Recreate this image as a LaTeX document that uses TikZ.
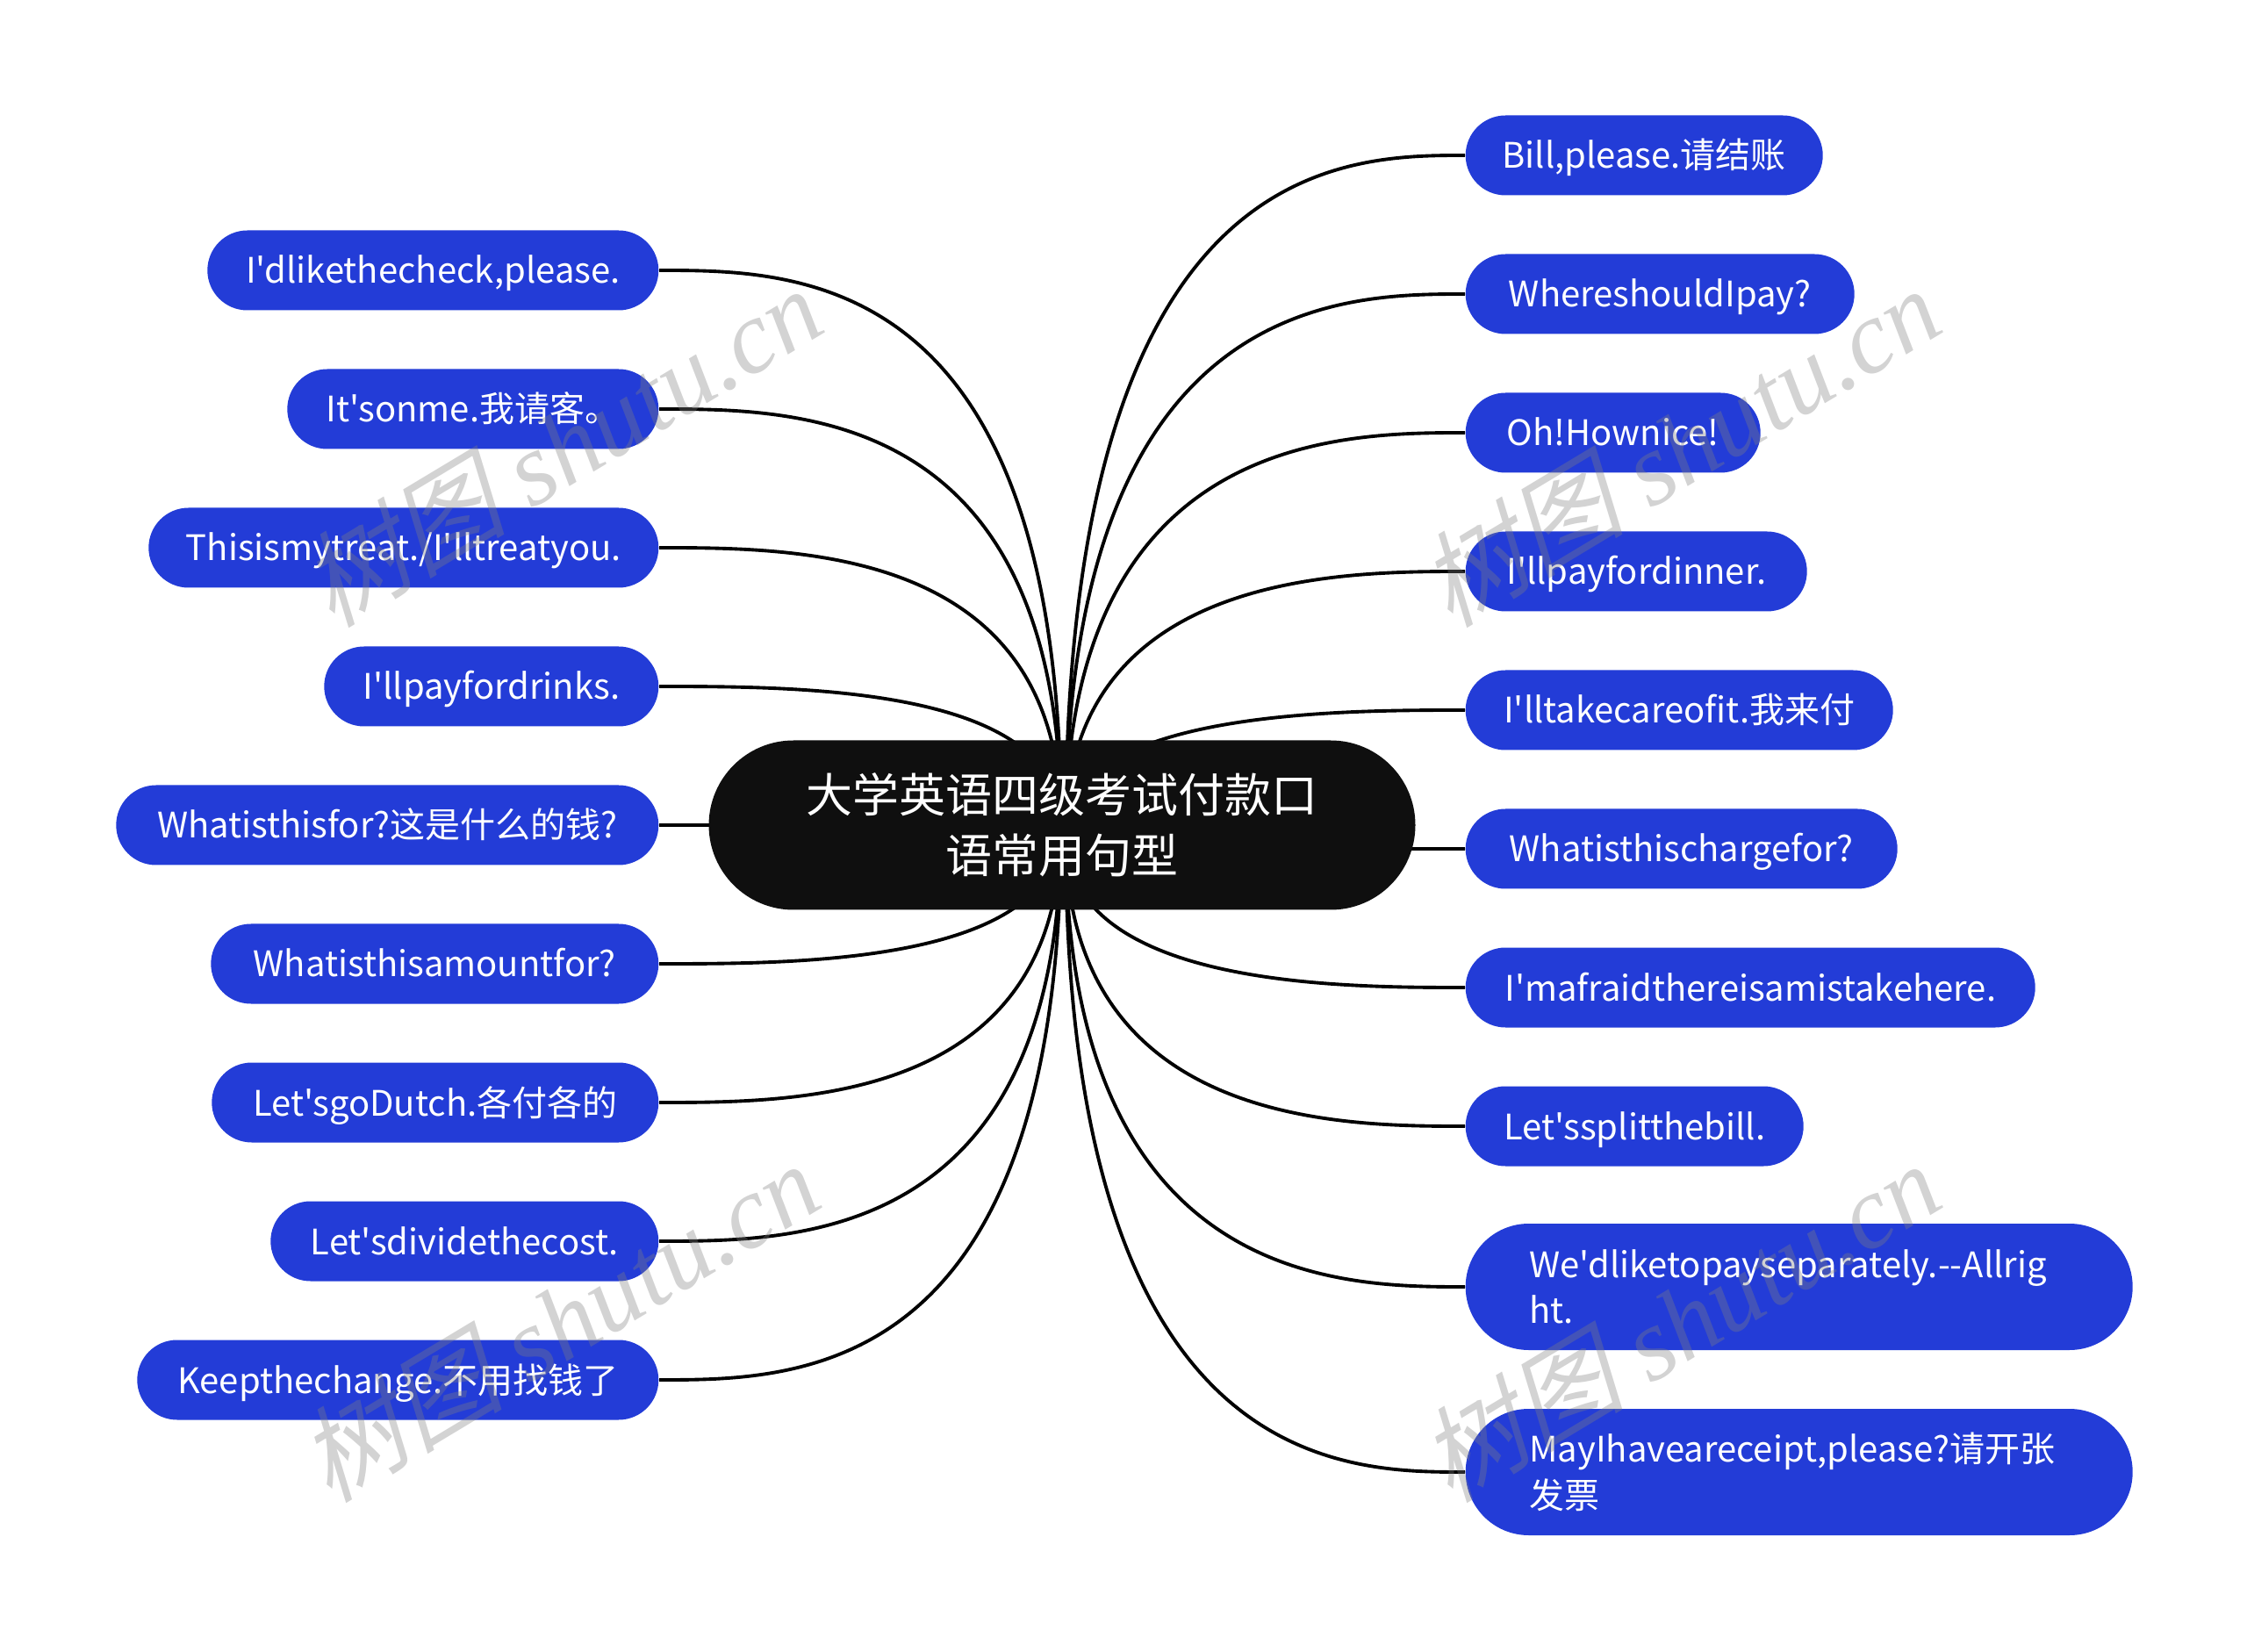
\documentclass[tikz,border=0pt]{standalone}
\usepackage{fontspec}
\usepackage{tikz}
\usetikzlibrary{shapes.misc,backgrounds}
\newfontfamily\labelfont{Noto Sans CJK SC}
\newfontfamily\markfont{Liberation Serif}
\newfontfamily\markcjk[FakeSlant=0.25]{Noto Sans CJK SC}
\definecolor{leafblue}{HTML}{233CD7}
\definecolor{rootblack}{HTML}{0F0F0F}
\begin{document}
\begin{tikzpicture}[
      leaf/.style={
        rounded rectangle,
        fill=leafblue,
        text=white,
        inner xsep=0pt,
        inner ysep=0pt,
        minimum height=0.91cm,
        font=\labelfont\fontsize{11.38}{14.9}\selectfont
      },
      leafleft/.style={leaf,anchor=east,text height=0.40cm,text depth=0.10cm},
      leafright/.style={leaf,anchor=west,text height=0.40cm,text depth=0.10cm},
      twolines/.style={leaf,anchor=west,minimum width=7.6cm,minimum height=1.44cm,text width=6.15cm,align=left},
      root/.style={
        rounded rectangle,
        fill=rootblack,
        text=white,
        inner xsep=0pt,
        inner ysep=0pt,
        minimum width=8.05cm,
        minimum height=1.93cm,
        align=center,
        font=\labelfont\fontsize{15.08}{19.6}\selectfont
      },
      link/.style={draw=black,line width=1.1pt},
      watermark/.style={
        rotate=31,
        text=gray,
        opacity=0.35,
        font=\markfont\itshape\fontsize{33.5}{33.5}\selectfont
      }
    ]
      \useasboundingbox (0,0) rectangle (25.6,18.81);

      \node (root) at (12.1,9.41) [root]{大学英语四级考试付款口\\语常用句型};
      \coordinate (hubl) at (12.09,9.41);
      \coordinate (hubr) at (12.14,9.31);

      \node (l1) at (7.51,15.73) [leafleft,minimum width=5.14cm]{I'dlikethecheck,please.};
      \node (l2) at (7.51,14.15) [leafleft,minimum width=4.23cm]{It'sonme.我请客。};
      \node (l3) at (7.51,12.57) [leafleft,minimum width=5.81cm]{Thisismytreat./I'lltreatyou.};
      \node (l4) at (7.51,10.99) [leafleft,minimum width=3.81cm]{I'llpayfordrinks.};
      \node (l5) at (7.51,9.41) [leafleft,minimum width=6.18cm]{Whatisthisfor?这是什么的钱?};
      \node (l6) at (7.51,7.83) [leafleft,minimum width=5.10cm]{Whatisthisamountfor?};
      \node (l7) at (7.51,6.25) [leafleft,minimum width=5.09cm]{Let'sgoDutch.各付各的};
      \node (l8) at (7.51,4.67) [leafleft,minimum width=4.42cm]{Let'sdividethecost.};
      \node (l9) at (7.51,3.09) [leafleft,minimum width=5.94cm]{Keepthechange.不用找钱了};

      \node (r1) at (16.69,17.04) [leafright,minimum width=4.07cm]{Bill,please.请结账};
      \node (r2) at (16.69,15.46) [leafright,minimum width=4.43cm]{WhereshouldIpay?};
      \node (r3) at (16.69,13.88) [leafright,minimum width=3.36cm]{Oh!Hownice!};
      \node (r4) at (16.69,12.30) [leafright,minimum width=3.89cm]{I'llpayfordinner.};
      \node (r5) at (16.69,10.72) [leafright,minimum width=4.87cm]{I'lltakecareofit.我来付};
      \node (r6) at (16.69,9.14) [leafright,minimum width=4.92cm]{Whatisthischargefor?};
      \node (r7) at (16.69,7.56) [leafright,minimum width=6.49cm]{I'mafraidthereisamistakehere.};
      \node (r8) at (16.69,5.98) [leafright,minimum width=3.85cm]{Let'ssplitthebill.};
      \node (r9) at (16.69,4.15) [twolines]{We'dliketopayseparately.--Allrig\\ht.};
      \node (r10) at (16.69,2.04) [twolines]{MayIhaveareceipt,please?请开张\\发票};

      \begin{scope}[on background layer]
      \foreach \n in {l1,l2,l3,l4,l5,l6,l7,l8,l9}
        \draw[link] (\n.east) .. controls +(1.6,0) and (hubl |- \n.east) .. (hubl);
      \foreach \n in {r1,r2,r3,r4,r5,r6,r7,r8,r9,r10}
        \draw[link] (\n.west) .. controls +(-1.4,0) and (hubr |- \n.west) .. (hubr);
      \end{scope}

      \node (m1) at (6.39,13.73) [watermark]{{\markcjk 树图} shutu.cn};
      \node (m2) at (19.13,13.73) [watermark]{{\markcjk 树图} shutu.cn};
      \node (m3) at (6.36,3.76) [watermark]{{\markcjk 树图} shutu.cn};
      \node (m4) at (19.13,3.76) [watermark]{{\markcjk 树图} shutu.cn};
    \end{tikzpicture}
\end{document}
